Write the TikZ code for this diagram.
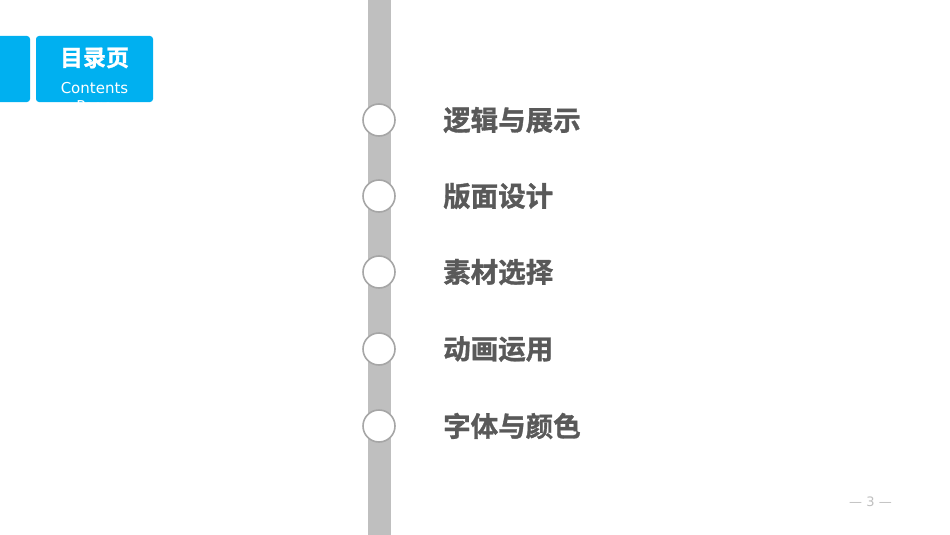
\documentclass[tikz,border=0pt]{standalone}
\usepackage{fontspec}
\setmainfont{DejaVu Sans}
\newfontfamily\cjkbold[FakeBold=1.2]{Noto Sans CJK SC Bold}
\definecolor{tabblue}{HTML}{00B0F0}
\definecolor{barGray}{HTML}{BFBFBF}
\definecolor{ringGray}{HTML}{A6A6A6}
\definecolor{itemGray}{HTML}{595959}

\begin{document}
\begin{tikzpicture}
[x=1pt,y=-1pt,%
  tabDecorate/.style={fill=tabblue,rounded corners=3pt},%
  ringDecorate/.style={shape=circle,minimum size=32pt,inner sep=0pt,draw=ringGray,line width=1.6pt,fill=white},%
  itemDecorate/.style={anchor=west,text=itemGray,font=\cjkbold\fontsize{27.5}{30}\selectfont,inner sep=0pt}]
\useasboundingbox[fill=white] (0,0) rectangle (950,535);
%% vertical bar
\fill[barGray] (368,0) rectangle (391,535);
%% tab in the corner
\fill[tabDecorate] (-6,36) rectangle (30,102);
\fill[tabDecorate] (36,36) rectangle (153,102);
\begin{scope}
\clip (36,36) rectangle (153,102);
\node (title) at (94.5,58) [text=white,font=\cjkbold\fontsize{23}{24}\selectfont] {目录页};
\node (subtitle) at (94.5,88) [text=white,font=\fontsize{15}{18}\selectfont] {Contents};
\node (subtitle2) at (94.5,108) [text=white,font=\fontsize{15}{18}\selectfont] {Page};
\end{scope}
%% rings and items
\foreach \nodename/\y/\txt in {
  1/120/逻辑与展示, 2/196/版面设计, 3/272/素材选择,
  4/349/动画运用, 5/426/字体与颜色}
{
  \node (ring\nodename) at (379,\y) [ringDecorate] {};
  \node (item\nodename) at (443,\y) [itemDecorate] {\txt};
}
%% page number
\node (page) at (870.5,502) [text=barGray,font=\fontsize{13}{15}\selectfont] {— 3 —};
\end{tikzpicture}
\end{document}
